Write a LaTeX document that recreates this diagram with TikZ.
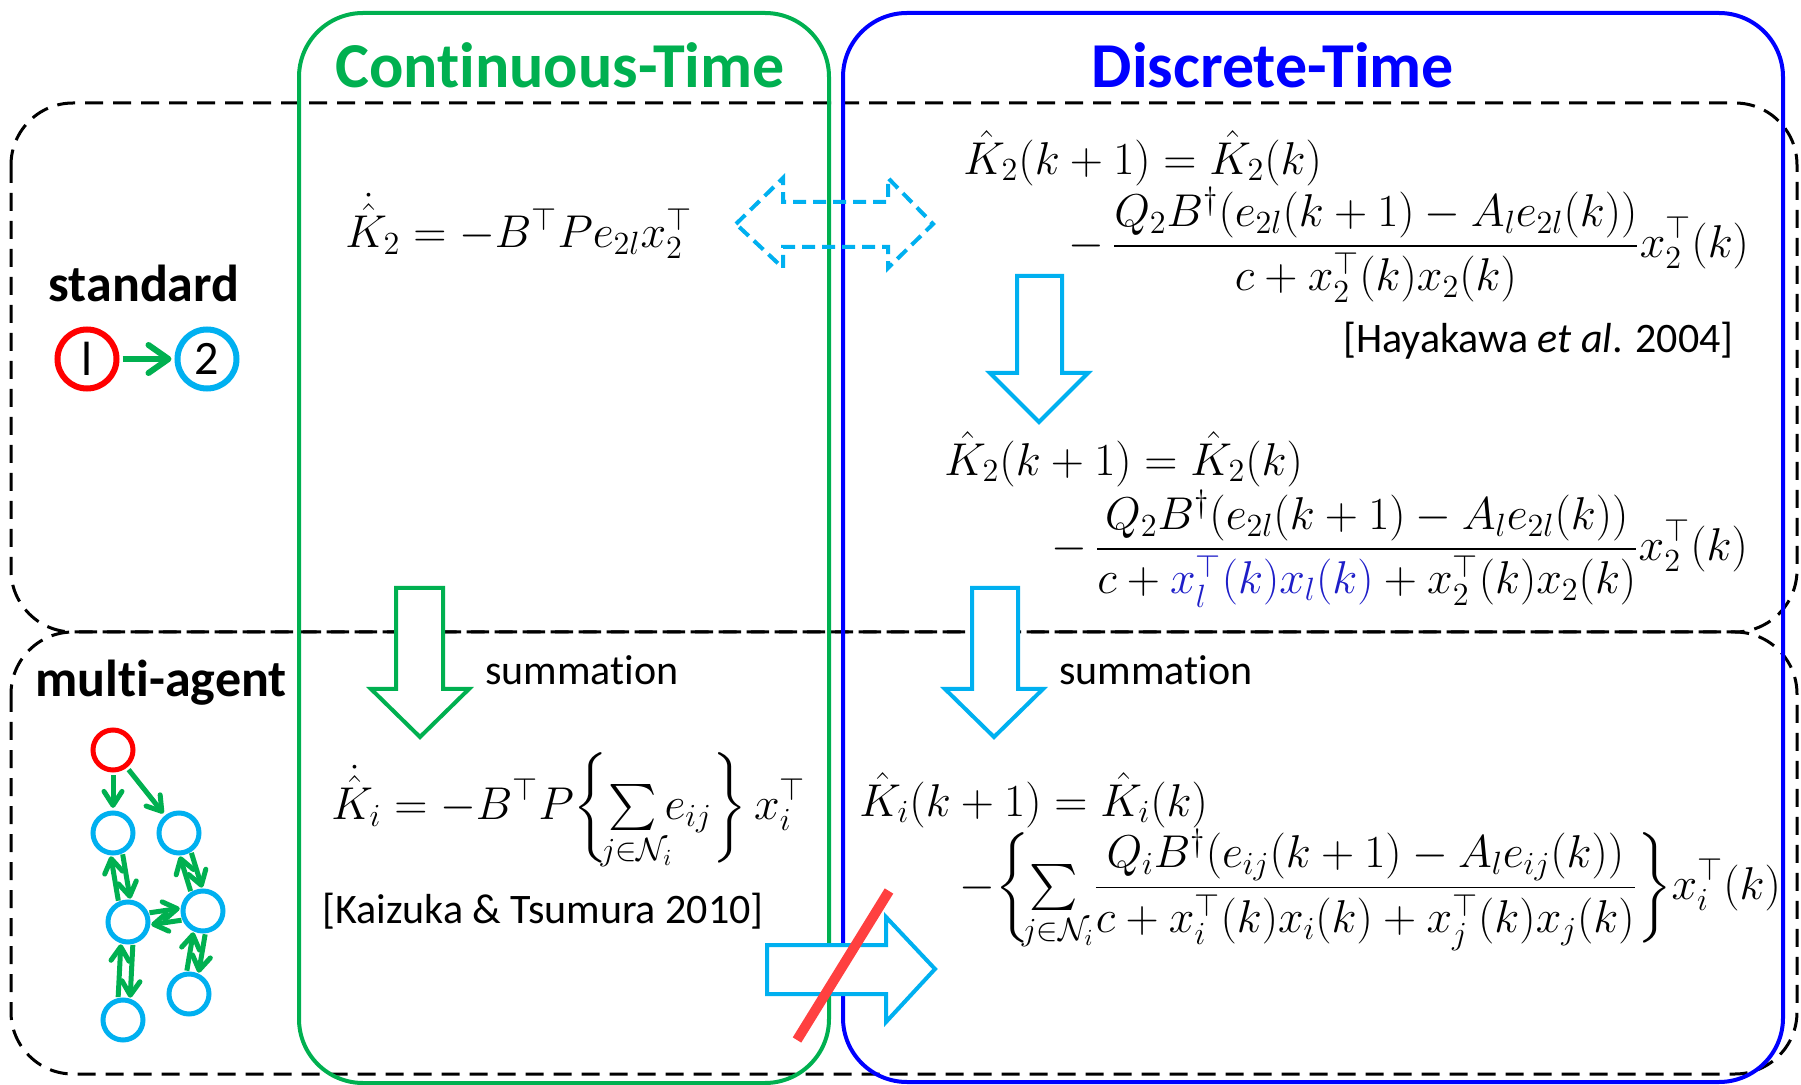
\RequirePackage{fix-cm}
\documentclass[tikz,border=0pt]{standalone}
\usepackage{amsmath,amssymb}
\usepackage[no-math]{fontspec}
\setmainfont{Carlito}[Ligatures=NoCommon]
\usetikzlibrary{calc,arrows.meta}
\definecolor{cgreen}{RGB}{0,176,80}
\definecolor{cblue}{RGB}{0,0,255}
\definecolor{ccyan}{RGB}{0,176,240}
\definecolor{cred}{RGB}{255,0,0}
\definecolor{cslash}{RGB}{255,64,64}
\definecolor{ceq}{RGB}{30,30,200}
\newcommand\dbledge[2]{%
  \draw[garrd] ($(#1)!3pt!90:(#2)$) -- ($(#2)!3pt!-90:(#1)$);
  \draw[garrd] ($(#2)!3pt!90:(#1)$) -- ($(#1)!3pt!-90:(#2)$);}
\newcommand\sumNi{\mathop{\textstyle\sum}\limits_{\hbox to 1.05em{$\scriptstyle j\in\mathcal N_i$\hss}}}
\begin{document}
\begin{tikzpicture}[x=0.5pt,y=-0.5pt,
  dashbox/.style={black,line width=1.5pt,dash pattern=on 9pt off 5pt,rounded corners=31pt},
  timebox/.style={line width=2pt,rounded corners=32pt},
  title/.style={font=\bfseries\fontsize{32}{38}\selectfont},
  rowlabel/.style={font=\bfseries\fontsize{26}{31}\selectfont},
  txt/.style={font=\fontsize{21}{25}\selectfont,inner sep=0pt},
  eq/.style={font=\fontsize{23}{28}\selectfont,inner sep=0pt,anchor=west},
  bigcirc/.style={circle,minimum size=29.5pt,inner sep=0pt,line width=3pt,draw,font=\fontsize{24}{28}\selectfont},
  smallcirc/.style={circle,minimum size=20pt,inner sep=0pt,line width=2.5pt,draw,draw=ccyan},
  garr/.style={cgreen,line width=3pt,-{Straight Barb[round,length=10pt,width=14pt]},shorten >=1.5pt,shorten <=1.5pt},
  garrs/.style={cgreen,line width=2.5pt,-{Straight Barb[round,length=7pt,width=9pt]},shorten >=1.3pt,shorten <=1.3pt},
  garrd/.style={cgreen,line width=2.5pt,-{Straight Barb[round,length=7pt,width=9pt]},shorten >=11.3pt,shorten <=11.3pt},
  blockarr/.style={line width=2pt,line join=miter},
]
\useasboundingbox (0,0) rectangle (1801,1085);
% region boxes
\draw[dashbox] (11,103) rectangle (1797,632);
\draw[dashbox] (11,632) rectangle (1797,1074);
\draw[timebox,cgreen] (299,13) rectangle (829,1083);
\draw[timebox,cblue] (843,13) rectangle (1783,1082);
% titles
\node[title,text=cgreen] (ct) at (560,65) {Continuous-Time};
\node[title,text=cblue] (dt) at (1273,65) {Discrete-Time};
\node[rowlabel] (std) at (144,283) {standard};
\node[rowlabel] (mul) at (161,683) {multi-agent};
% standard graph
\node[bigcirc,draw=cred] (s1) at (87,359) {l};
\node[bigcirc,draw=ccyan] (s2) at (207,359) {2};
\draw[garr] (s1) -- (s2);
% multi-agent graph
\node[smallcirc,draw=cred] (r) at (113,750) {};
\node[smallcirc] (a) at (113,833) {};
\node[smallcirc] (b) at (179,833) {};
\node[smallcirc] (c) at (128,922) {};
\node[smallcirc] (d) at (203,911) {};
\node[smallcirc] (e) at (189,994) {};
\node[smallcirc] (f) at (123,1020) {};
\draw[garrs] (r) -- (a);
\draw[garrs] (r) -- (b);
\dbledge{a}{c}
\dbledge{b}{d}
\dbledge{d}{c}
\dbledge{c}{f}
\dbledge{d}{e}
% block arrows
\draw[blockarr,ccyan,dash pattern=on 6.5pt off 3.5pt]
  (736,224) -- (783,178) -- (783,202) -- (888,202) -- (888,178) -- (933,224)
  -- (888,268) -- (888,247) -- (783,247) -- (783,268) -- cycle;
\draw[blockarr,ccyan,fill=white]
  (1017,276) -- (1062,276) -- (1062,373) -- (1088,373) -- (1039,422)
  -- (990,373) -- (1017,373) -- cycle;
\draw[blockarr,cgreen,fill=white]
  (396,588) -- (443,588) -- (443,689) -- (469,689) -- (420,737)
  -- (371,689) -- (396,689) -- cycle;
\draw[blockarr,ccyan,fill=white]
  (972,588) -- (1018,588) -- (1018,689) -- (1043,689) -- (994,737)
  -- (945,689) -- (972,689) -- cycle;
\draw[blockarr,ccyan,fill=white]
  (767,945) -- (886,945) -- (886,917) -- (935,969) -- (886,1022)
  -- (886,994) -- (767,994) -- cycle;
\draw[cslash,line width=5pt] (797,1040) -- (889,891);
% equations
\node[eq] (eq1) at (345,226) {$\dot{\hat K}_2 = -B^\top P e_{2l}x_2^\top$};
\node[eq] (eq2a) at (963,158) {$\hat K_2(k+1) = \hat K_2(k)$};
\node[eq] (eq2b) at (1068,245) {$\displaystyle -\,\frac{Q_2B^\dagger(e_{2l}(k+1)-A_le_{2l}(k))}{c+x_2^\top(k)x_2(k)}x_2^\top(k)$};
\node[txt,anchor=east] (hay) at (1734,341) {[Hayakawa \textit{et al}. 2004]};
\node[eq] (eq3a) at (944,459) {$\hat K_2(k+1) = \hat K_2(k)$};
\node[eq] (eq3b) at (1051,549) {$\displaystyle -\,\frac{Q_2B^\dagger(e_{2l}(k+1)-A_le_{2l}(k))}{c+{\color{ceq}x_l^\top(k)x_l(k)}+x_2^\top(k)x_2(k)}x_2^\top(k)$};
\node[txt,anchor=west] (sum1) at (485,670) {summation};
\node[txt,anchor=west] (sum2) at (1059,670) {summation};
\node[eq] (eq4) at (331,812) {$\displaystyle \dot{\hat K}_i = -B^\top P\biggl\{\sumNi e_{ij}\biggr\}\,x_i^\top$};
\node[txt,anchor=west] (kai) at (322,911) {[Kaizuka \& Tsumura 2010]};
\node[eq] (eq5a) at (859,800) {$\hat K_i(k+1) = \hat K_i(k)$};
\node[eq] (eq5b) at (959,890) {$\displaystyle -\biggl\{\sumNi\,\frac{Q_iB^\dagger(e_{ij}(k+1)-A_le_{ij}(k))}{c+x_i^\top(k)x_i(k)+x_j^\top(k)x_j(k)}\biggr\}x_i^\top(k)$};
\end{tikzpicture}
\end{document}
